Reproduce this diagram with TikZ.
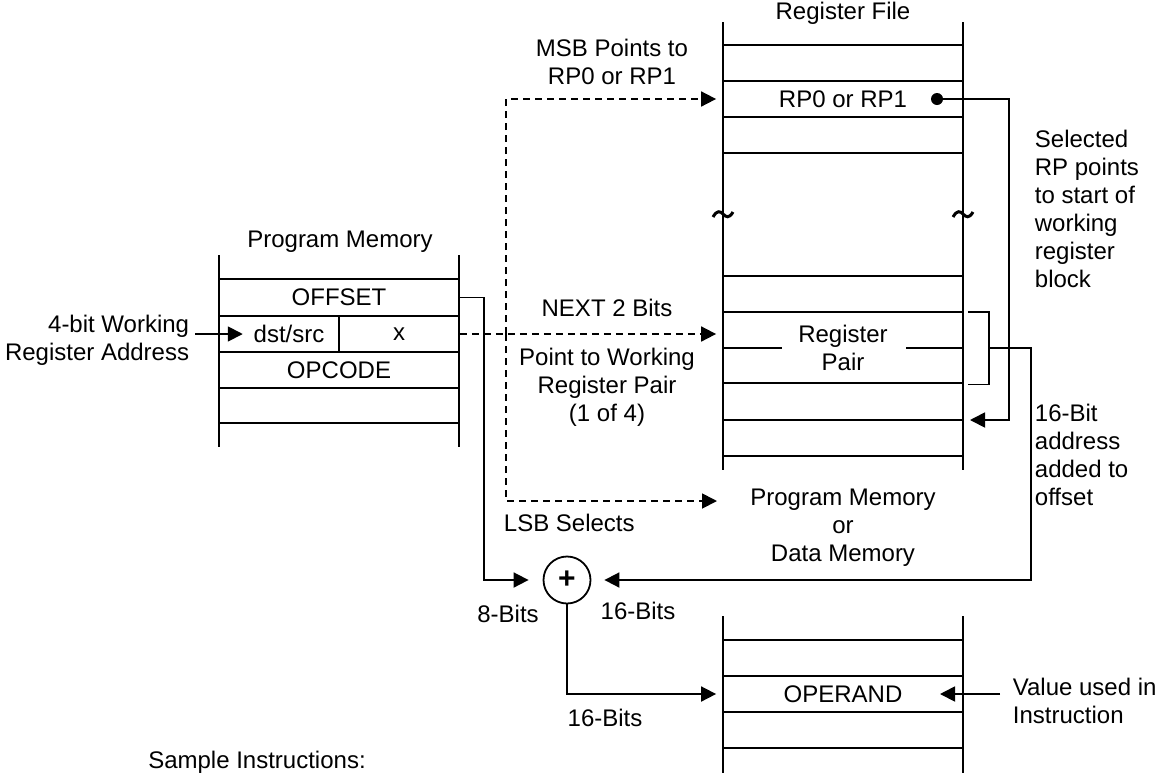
\documentclass[tikz,border=0pt]{standalone}
\usepackage{fontspec}
\setmainfont{Liberation Sans}
\usetikzlibrary{arrows.meta,calc,positioning}

\begin{document}
\begin{tikzpicture}[x=1pt, y=-1pt,
    font=\fontsize{24}{28}\selectfont,
    line width=1.8pt,
    cell/.style={minimum width=240pt, minimum height=36pt, inner sep=0pt, align=center},
    halfcell/.style={cell, minimum width=120pt},
    lbl/.style={align=center, inner sep=0pt},
    note/.style={align=left, inner sep=0pt, anchor=west},
    arrow/.style={-{Triangle[length=15pt,width=15pt]}},
    dasharrow/.style={arrow, dash pattern=on 7pt off 5pt},
    sumnode/.style={circle, draw, minimum size=47pt, inner sep=0pt,
      font=\fontsize{30}{30}\selectfont\bfseries}
  ]
    \useasboundingbox (0,0) rectangle (1159,772);

    % program memory
    \draw (219,255) -- (219,447) (459,255) -- (459,447);
    \foreach \ry in {279,316,352,388,423}
      \draw (219,\ry) -- (459,\ry);
    \draw (339,316) -- (339,352);
    \node[lbl] (pmtitle) at (340,242) {Program Memory};
    \node[cell] (offset) at (339,297.5) {OFFSET};
    \node[lbl] (dstsrc) at (289,334) {dst/src};
    \node[halfcell] (xcell) at (399,334) {x};
    \node[cell] (opcode) at (339,370) {OPCODE};
    \node[lbl, align=right, anchor=east] (addr) at (190,340) {4-bit Working\\Register Address};

    % register file
    \draw (723,22) -- (723,470) (963,22) -- (963,470);
    \foreach \ry in {45,81,117,153,276,312,383,420,456}
      \draw (723,\ry) -- (963,\ry);
    \foreach \tx in {723,963}
      \draw[line width=3pt] (\tx-10,217) .. controls (\tx-6,210) and (\tx-3,211) .. (\tx,214)
        .. controls (\tx+3,217) and (\tx+6,219) .. (\tx+10,212);
    \node[lbl] (rftitle) at (843,13) {Register File};
    \node[cell] (rp) at (843,99) {RP0 or RP1};
    \node[cell, minimum height=71pt] (rpair) at (843,348) {Register\\Pair};
    \draw (rpair.west) -- ++(60,0) (rpair.east) -- ++(-58,0);
    \coordinate (rpdot) at (937,99);
    \coordinate (wrkstart) at (970,420);
    \coordinate (selend) at (717,501);
    \coordinate (fork) at (506,334);
    \node[lbl] (pmdm) at (843,528) {Program Memory\\or\\Data Memory};

    % operand stack
    \draw (723,616) -- (723,780) (963,616) -- (963,780);
    \foreach \ry in {640,676,712,748}
      \draw (723,\ry) -- (963,\ry);
    \node[cell] (operand) at (843,694) {OPERAND};
    \coordinate (opin) at (940,694);

    \node[sumnode] (adder) at (567,580) {+};

    % labels
    \node[lbl] (msb) at (612,62) {MSB Points to\\RP0 or RP1};
    \node[lbl] (next) at (607,308) {NEXT 2 Bits};
    \node[lbl] (pair) at (607,387) {Point to Working\\Register Pair\\(1 of 4)};
    \node[note] (lsb) at (503,523) {LSB Selects};
    \node[lbl] (eight) at (508,614) {8-Bits};
    \node[lbl] (sixteena) at (638,611) {16-Bits};
    \node[lbl] (sixteenb) at (605,718) {16-Bits};
    \node[note] (selected) at (1034,209) {Selected\\RP points\\to start of\\working\\register\\block};
    \node[note] (added) at (1034,455) {16-Bit\\address\\added to\\offset};
    \node[note] (valtxt) at (1012,701) {Value used in\\Instruction};
    \node[lbl] (sample) at (257,762) {Sample Instructions:};

    % connectors
    \draw[arrow, shorten >=10pt] ([xshift=5pt]addr.east |- dstsrc) -- (dstsrc.west);
    \draw[dasharrow, shorten >=6pt] (xcell.east) -- (xcell.east -| rpair.west);
    \draw[dasharrow, shorten >=6pt] (fork) |- (rp.west);
    \draw[dasharrow] (fork) |- (selend);
    \fill (rpdot) circle (6pt);
    \draw[arrow] (rpdot) -- ++(72,0) |- (wrkstart);
    \draw ([xshift=4pt]rpair.north east) -- ++(21,0) |- ([xshift=4pt]rpair.south east);
    \draw[arrow, shorten >=13pt] ([xshift=25pt]rpair.east) -- ++(42,0) |- (adder.east);
    \draw[arrow, shorten >=14pt] (offset.east) -- ++(24,0) |- (adder.west);
    \draw[arrow, shorten >=6pt] (adder.south) |- (operand.west);
    \draw[arrow] ([xshift=-12pt]valtxt.west |- operand) -- (opin);
  \end{tikzpicture}
\end{document}
